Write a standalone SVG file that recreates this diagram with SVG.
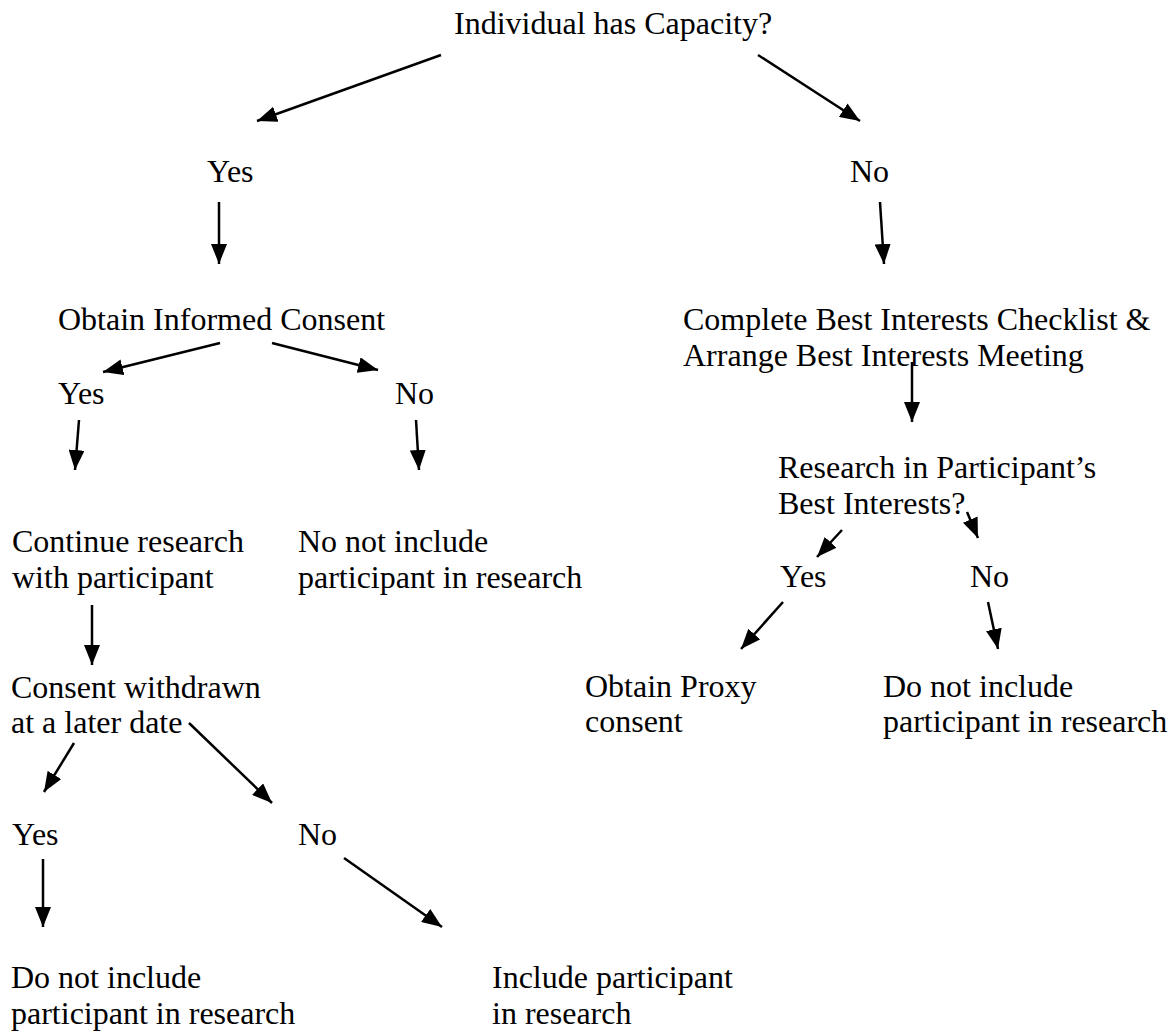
<svg xmlns="http://www.w3.org/2000/svg" width="1174" height="1034" viewBox="0 0 1174 1034">
<defs>
<style>
text{font-family:"Liberation Serif","Times New Roman",serif;font-size:32px;fill:#000}
.c line{stroke:#000;stroke-width:2.5;marker-end:url(#ah)}
</style>
<marker id="ah" viewBox="0 0 20 16" refX="20" refY="8" markerWidth="20" markerHeight="16" markerUnits="userSpaceOnUse" orient="auto">
<path d="M0,0 L20,8 L0,16 z" fill="#000"/>
</marker>
</defs>
<rect width="1174" height="1034" fill="#fff"/>
<g id="n-capacity"><text x="454" y="34">Individual has Capacity?</text></g>
<g id="n-yes1"><text x="207" y="182">Yes</text></g>
<g id="n-no1"><text x="850" y="182">No</text></g>
<g id="n-obtain"><text x="58" y="330">Obtain Informed Consent</text></g>
<g id="n-best"><text x="683" y="330">Complete Best Interests Checklist &amp;</text><text x="683" y="366">Arrange Best Interests Meeting</text></g>
<g id="n-yes2"><text x="58" y="404">Yes</text></g>
<g id="n-no2"><text x="395" y="404">No</text></g>
<g id="n-research"><text x="778" y="478">Research in Participant’s</text><text x="778" y="514">Best Interests?</text></g>
<g id="n-continue"><text x="12" y="552">Continue research</text><text x="12" y="588">with participant</text></g>
<g id="n-noinclude"><text x="298" y="552">No not include</text><text x="298" y="588">participant in research</text></g>
<g id="n-yes3"><text x="780" y="587">Yes</text></g>
<g id="n-no3"><text x="970" y="587">No</text></g>
<g id="n-proxy"><text x="585" y="697">Obtain Proxy</text><text x="585" y="732">consent</text></g>
<g id="n-donot2"><text x="883" y="697">Do not include</text><text x="883" y="732">participant in research</text></g>
<g id="n-withdrawn"><text x="11" y="698">Consent withdrawn</text><text x="11" y="733">at a later date</text></g>
<g id="n-yes4"><text x="12" y="845">Yes</text></g>
<g id="n-no4"><text x="298" y="845">No</text></g>
<g id="n-donot1"><text x="11" y="988">Do not include</text><text x="11" y="1024">participant in research</text></g>
<g id="n-include"><text x="492" y="988">Include participant</text><text x="492" y="1024">in research</text></g>
<g id="connectors" class="c">
<line x1="441" y1="55" x2="257" y2="121"/>
<line x1="758" y1="55" x2="860" y2="121"/>
<line x1="219" y1="202" x2="219" y2="264"/>
<line x1="880" y1="202" x2="884" y2="264"/>
<line x1="220" y1="343" x2="103" y2="372"/>
<line x1="272" y1="343" x2="378" y2="370"/>
<line x1="79" y1="420" x2="75" y2="470"/>
<line x1="416" y1="420" x2="419" y2="470"/>
<line x1="912" y1="362" x2="912" y2="422"/>
<line x1="842" y1="530" x2="817" y2="557"/>
<line x1="967" y1="512" x2="978" y2="538"/>
<line x1="783" y1="602" x2="741" y2="649"/>
<line x1="988" y1="602" x2="998" y2="649"/>
<line x1="92" y1="605" x2="92" y2="665"/>
<line x1="74" y1="743" x2="44" y2="792"/>
<line x1="189" y1="723" x2="272" y2="803"/>
<line x1="43" y1="859" x2="43" y2="927"/>
<line x1="344" y1="858" x2="442" y2="927"/>
</g>
</svg>
